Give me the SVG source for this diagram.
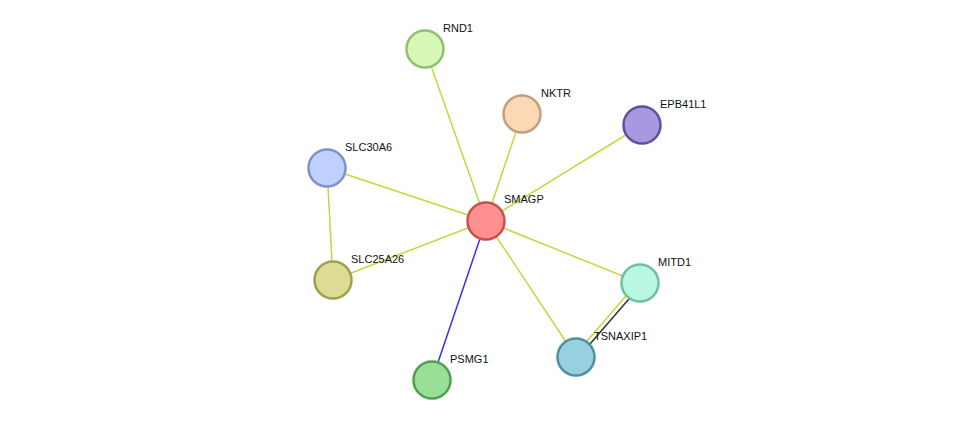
<svg xmlns="http://www.w3.org/2000/svg" width="976" height="426" viewBox="0 0 976 426">
<style>
.e{stroke:#c2d83c;stroke-width:1.5;fill:none}
.n{stroke-width:2.5}
text{font-family:"Liberation Sans",Arial,sans-serif;font-size:11px;fill:#111}
</style>
<rect width="976" height="426" fill="#fff"/>
<g id="edges">
<line class="e" x1="486" y1="221" x2="425" y2="49"/>
<line class="e" x1="486" y1="221" x2="522" y2="114"/>
<line class="e" x1="486" y1="221" x2="642" y2="125"/>
<line class="e" x1="486" y1="221" x2="327" y2="168"/>
<line class="e" x1="486" y1="221" x2="333" y2="280"/>
<line class="e" x1="486" y1="221" x2="640" y2="283"/>
<line class="e" x1="486" y1="221" x2="576" y2="357"/>
<line class="e" x1="327" y1="168" x2="333" y2="280"/>
<line x1="486" y1="221" x2="432" y2="380" stroke="#3333ee" stroke-width="1.5"/>
<line x1="641" y1="285" x2="577" y2="359" stroke="#333" stroke-width="1.5"/>
<line class="e" x1="638" y1="282" x2="574" y2="356"/>
</g>
<g id="SMAGP"><circle class="n" cx="486" cy="221" r="18.5" fill="#ff9090" stroke="#c85050"/><text x="504" y="203">SMAGP</text></g>
<g id="RND1"><circle class="n" cx="425" cy="49" r="18.5" fill="#d8f8b8" stroke="#90c070"/><text x="443" y="32">RND1</text></g>
<g id="NKTR"><circle class="n" cx="522" cy="114" r="18.5" fill="#fcd8b4" stroke="#c0a080"/><text x="541" y="97">NKTR</text></g>
<g id="EPB41L1"><circle class="n" cx="642" cy="125" r="18.5" fill="#a898e0" stroke="#6050a0"/><text x="660" y="108">EPB41L1</text></g>
<g id="SLC30A6"><circle class="n" cx="327" cy="168" r="18.5" fill="#c0d0ff" stroke="#8090c8"/><text x="345" y="151">SLC30A6</text></g>
<g id="SLC25A26"><circle class="n" cx="333" cy="280" r="18.5" fill="#dcdc94" stroke="#a0a050"/><text x="351" y="263">SLC25A26</text></g>
<g id="MITD1"><circle class="n" cx="640" cy="283" r="18.5" fill="#b8f8e0" stroke="#70c0a0"/><text x="658" y="266">MITD1</text></g>
<g id="TSNAXIP1"><circle class="n" cx="576" cy="357" r="18.5" fill="#98d0e0" stroke="#5090a0"/><text x="594" y="340">TSNAXIP1</text></g>
<g id="PSMG1"><circle class="n" cx="432" cy="380" r="18.5" fill="#98e098" stroke="#50a050"/><text x="450" y="363">PSMG1</text></g>
</svg>
